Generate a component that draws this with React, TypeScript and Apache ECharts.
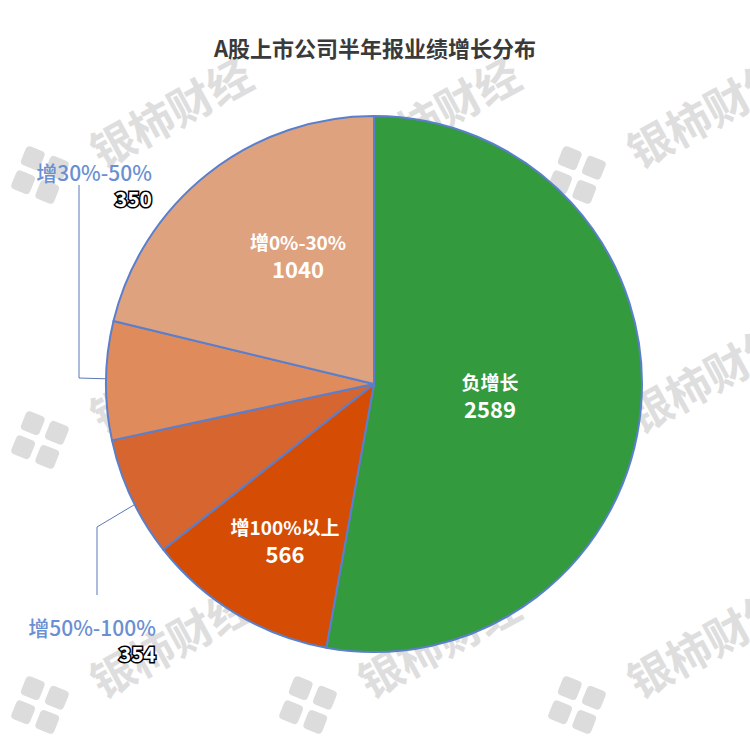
import React, { useEffect, useRef } from "react";
import * as echarts from "echarts";

const titleText = "A股上市公司半年报业绩增长分布";
const categories = ["负增长", "增100%以上", "增50%-100%", "增30%-50%", "增0%-30%"];
const values = [2589, 566, 354, 350, 1040];
const colors = ["#349A3E", "#D54D05", "#D6652F", "#DF8B5C", "#DFA27F"];
const outsideIdx = [2, 3];
const watermarkText = "银柿财经";

const FONT = "'Noto Sans CJK SC', 'Noto Sans', sans-serif";

export default function App() {
  const ref = useRef<HTMLDivElement>(null);
  useEffect(() => {
    const chart = echarts.init(ref.current!, null, { renderer: "svg" });
    const cx = 374;
    const cy = 384;
    const R = 268;
    const total = values.reduce((a, b) => a + b, 0);
    const mids: number[] = [];
    let acc = 0;
    values.forEach((v) => {
      mids.push(((acc + v / 2) / total) * Math.PI * 2);
      acc += v;
    });
    const polar = (i: number, ratio: number) => [
      cx + Math.sin(mids[i]) * R * ratio,
      cy - Math.cos(mids[i]) * R * ratio,
    ];

    // watermark tiles
    const wm: any[] = [];
    const rows = [175, 440, 705];
    const cols = [40, 308, 577];
    rows.forEach((ry) =>
      cols.forEach((rx) => {
        const sq = (x: number, y: number) => ({
          type: "rect",
          x,
          y,
          shape: { width: 20, height: 20, r: 4 },
          style: { fill: "#dcdcdc" },
        });
        wm.push({
          type: "group",
          x: rx,
          y: ry,
          children: [
            {
              type: "group",
              rotation: -0.38,
              children: [sq(-23, -23), sq(3, -23), sq(-23, 3), sq(3, 3)],
            },
            {
              type: "text",
              x: 130,
              y: -64,
              rotation: 0.5,
              style: {
                text: watermarkText,
                fontSize: 44,
                fontWeight: "bold",
                fontFamily: FONT,
                fill: "#dedede",
                align: "center",
                verticalAlign: "middle",
              },
            },
          ],
        });
      })
    );

    const data = categories.map((name, i) => {
      const outside = outsideIdx.includes(i);
      return {
        name,
        value: values[i],
        itemStyle: { color: colors[i] },
        label: outside
          ? {
              show: true,
              position: "outside",
              formatter: "{n|{b}}\n{v|{c}}",
              rich: {
                n: {
                  fontSize: 21,
                  fontFamily: FONT,
                  fontWeight: 500,
                  color: "#6B8FD3",
                  align: "right",
                  lineHeight: 26,
                },
                v: {
                  fontSize: 21,
                  fontFamily: FONT,
                  fontWeight: "bold",
                  color: "#ffffff",
                  textBorderColor: "#000000",
                  textBorderWidth: 3,
                  align: "right",
                  lineHeight: 26,
                },
              },
            }
          : {
              show: true,
              position: "inside",
              formatter: "{n|{b}}\n{v|{c}}",
              rich: {
                n: {
                  fontSize: 19,
                  fontFamily: FONT,
                  fontWeight: "bold",
                  color: "#ffffff",
                  lineHeight: 26,
                },
                v: {
                  fontSize: 22,
                  fontFamily: FONT,
                  fontWeight: "bold",
                  color: "#ffffff",
                  lineHeight: 28,
                },
              },
            },
        labelLine: outside
          ? { show: true, lineStyle: { color: "#5B78B8", width: 1 } }
          : { show: false },
      };
    });

    const inside: Record<number, number[]> = {
      0: [116, 11],
      1: [-89, 156],
      4: [-76, -129],
    };

    chart.setOption({
      animation: false,
      backgroundColor: "#ffffff",
      title: {
        text: titleText,
        left: "center",
        top: 31,
        textStyle: {
          fontSize: 22,
          fontWeight: "bold",
          color: "#3a3a3a",
          fontFamily: FONT,
        },
      },
      graphic: { elements: wm },
      series: [
        {
          type: "pie",
          center: [cx, cy],
          radius: R,
          startAngle: 90,
          clockwise: true,
          avoidLabelOverlap: false,
          itemStyle: { borderColor: "#5A7FCC", borderWidth: 2 },
          emphasis: { disabled: true },
          labelLayout: (p: any) => {
            const i = p.dataIndex;
            if (i === 3) {
              return {
                x: cx - 222,
                y: cy - 199,
                align: "right",
                verticalAlign: "middle",
                labelLinePoints: [polar(3, 0.59), [cx - 295, cy - 6], [cx - 295, cy - 199]],
              };
            }
            if (i === 2) {
              return {
                x: cx - 218,
                y: cy + 256,
                align: "right",
                verticalAlign: "middle",
                labelLinePoints: [polar(2, 0.72), [cx - 277, cy + 143], [cx - 277, cy + 211]],
              };
            }
            const o = inside[i];
            return { x: cx + o[0], y: cy + o[1], align: "center", verticalAlign: "middle" };
          },
          data,
        },
      ],
    });
    return () => chart.dispose();
  }, []);
  return (
    <div
      ref={ref}
      style={{ position: "fixed", left: 0, top: 0, width: 750, height: 755, background: "#fff" }}
    />
  );
}
